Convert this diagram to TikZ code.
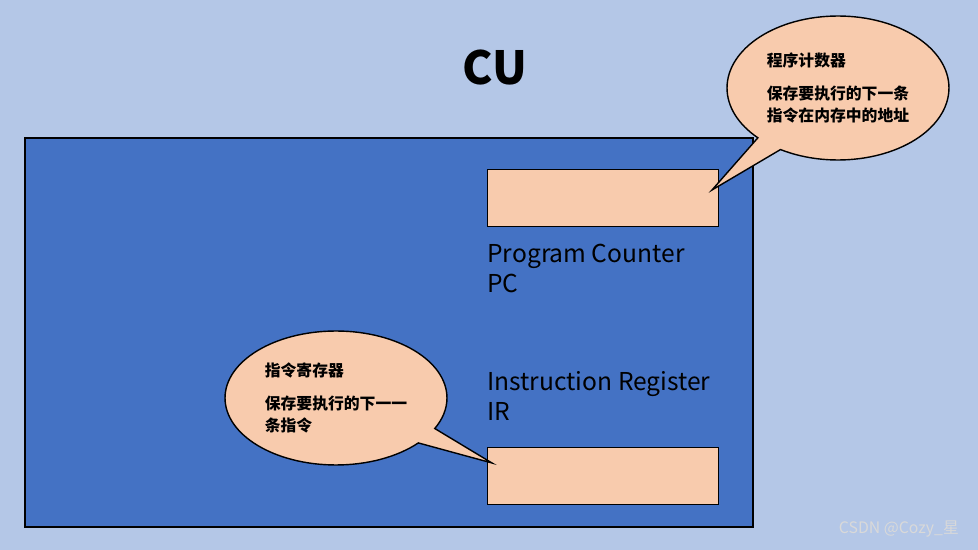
\documentclass[tikz,border=0pt]{standalone}
\usepackage{fontspec}
\setmainfont{Noto Sans CJK SC}
\usetikzlibrary{shapes.callouts}
\definecolor{bgblue}{HTML}{B4C7E7}
\definecolor{cublue}{HTML}{4472C4}
\definecolor{regfill}{HTML}{F8CBAD}
\tikzset{
  reg/.style={draw=black, thick, fill=regfill, minimum width=4.62cm, minimum height=1.14cm, anchor=north west},
  lbl/.style={anchor=north west, align=left, font=\fontsize{14}{17}\selectfont, inner sep=0pt},
  bubble/.style={ellipse callout, draw=black, thick, fill=regfill, minimum width=4.44cm, align=left, font=\bfseries\fontsize{9}{12.5}\selectfont}
}
\begin{document}
\begin{tikzpicture}[x=0.02cm,y=-0.02cm]
\fill[bgblue] (0,0) rectangle (978,550);
\useasboundingbox (0,0) rectangle (978,550);
\node[font=\bfseries\fontsize{26}{30}\selectfont] (cu) at (495,68) {CU};
\draw[black, thick, fill=cublue] (25,138) rectangle (753,527);
\node[reg] (pc) at (487,169) {};
\node[lbl] (pclbl) at (487,244) {Program Counter\\PC};
\node[lbl] (irlbl) at (487,371) {Instruction Register\\IR};
\node[reg] (ir) at (487,447) {};
\coordinate (pctip) at (712,190);
\coordinate (irtip) at (492,463);
\node[bubble, minimum height=2.88cm, callout absolute pointer=(pctip)] (pcnote) at (838,88)
  {程序计数器\\[6pt]保存要执行的下一条\\指令在内存中的地址};
\node[bubble, minimum height=2.68cm, callout absolute pointer=(irtip)] (irnote) at (336,398)
  {指令寄存器\\[6pt]保存要执行的下一一\\条指令};
\node[anchor=south east, text=gray!30, font=\fontsize{9}{10}\selectfont] (mark) at (965,543) {CSDN @Cozy\_星};
\end{tikzpicture}
\end{document}
